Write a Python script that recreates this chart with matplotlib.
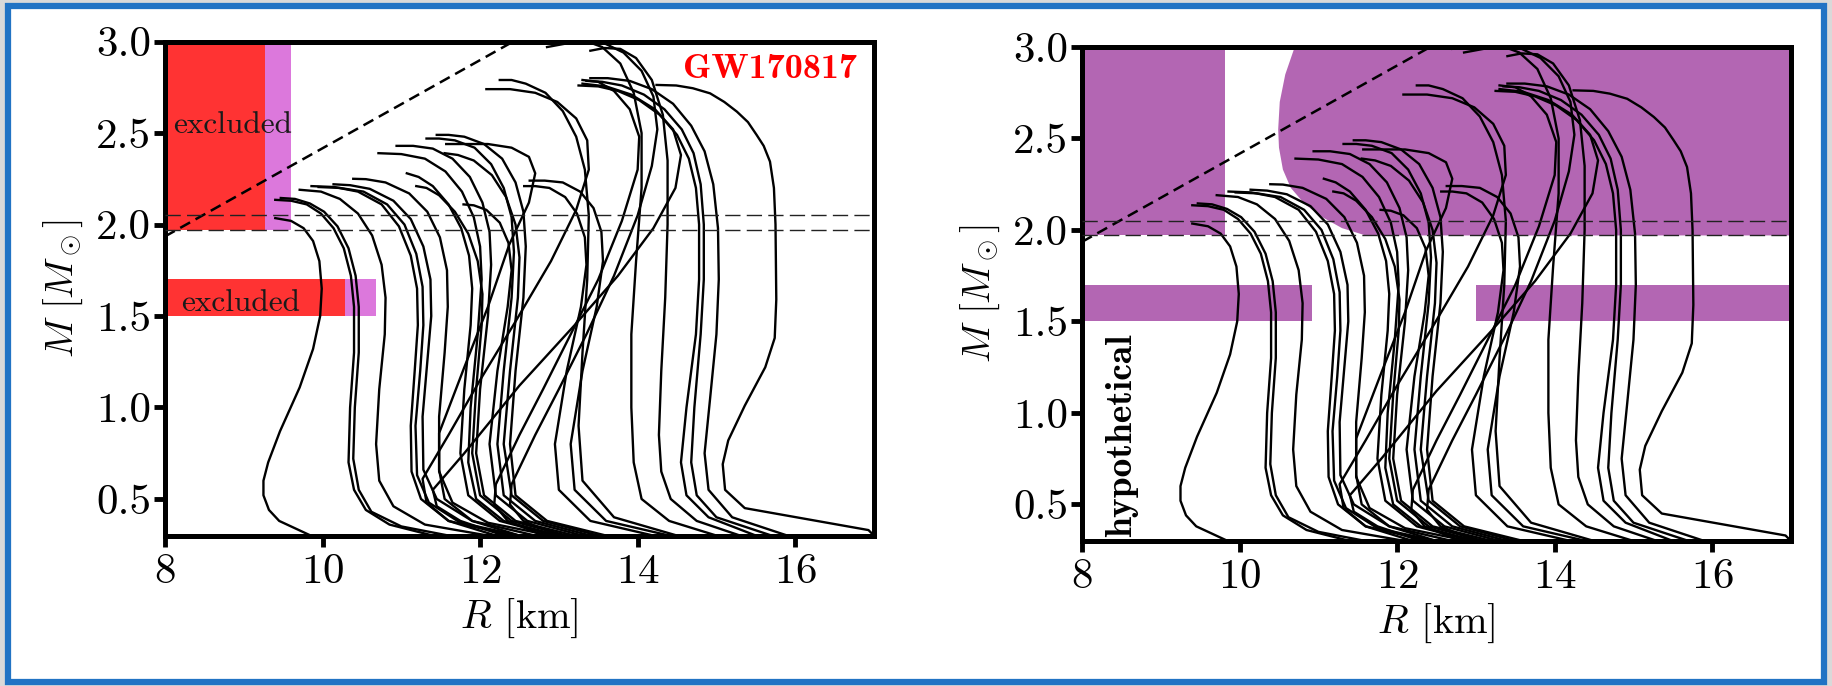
import matplotlib
matplotlib.use("Agg")
import matplotlib.pyplot as plt
from matplotlib.patches import Rectangle, Polygon

plt.rcParams['font.family'] = 'cmr10'
plt.rcParams['mathtext.fontset'] = 'cm'
plt.rcParams['axes.formatter.use_mathtext'] = True

# mass-radius curves, (R [km], M [Msun]) from low mass up to the maximum mass
eos_a = [(9.85, 0.30), (9.65, 0.34), (9.45, 0.38), (9.32, 0.44), (9.25, 0.52), (9.25, 0.60), (9.31, 0.70),
         (9.46, 0.87), (9.71, 1.11), (9.88, 1.32), (9.97, 1.50), (9.99, 1.65), (9.96, 1.80), (9.88, 1.91),
         (9.76, 1.98), (9.60, 2.02), (9.40, 2.035)]
eos_b = [(11.40, 0.30), (10.85, 0.36), (10.55, 0.44), (10.40, 0.55), (10.33, 0.70), (10.35, 1.00), (10.40, 1.30),
         (10.40, 1.55), (10.36, 1.72), (10.27, 1.87), (10.14, 1.98), (9.98, 2.06), (9.80, 2.11), (9.60, 2.13),
         (9.40, 2.135)]
eos_b2 = [(11.60, 0.30), (11.00, 0.35), (10.62, 0.43), (10.46, 0.55), (10.39, 0.72), (10.41, 1.00), (10.46, 1.30),
          (10.46, 1.55), (10.42, 1.72), (10.33, 1.87), (10.19, 1.99), (10.02, 2.07), (9.84, 2.115), (9.65, 2.14),
          (9.47, 2.145)]
eos_c = [(12.10, 0.30), (11.30, 0.36), (10.90, 0.46), (10.72, 0.60), (10.68, 0.80), (10.72, 1.10), (10.79, 1.40),
         (10.80, 1.60), (10.75, 1.78), (10.63, 1.94), (10.45, 2.06), (10.22, 2.14), (9.98, 2.18), (9.71, 2.19)]
eos_d = [(12.40, 0.30), (11.60, 0.38), (11.25, 0.50), (11.13, 0.65), (11.12, 0.90), (11.17, 1.20), (11.21, 1.45),
         (11.20, 1.65), (11.12, 1.83), (10.97, 1.99), (10.75, 2.11), (10.45, 2.18), (10.15, 2.205), (9.86, 2.21)]
eos_d2 = [(12.50, 0.30), (11.75, 0.37), (11.35, 0.48), (11.20, 0.63), (11.18, 0.90), (11.24, 1.20), (11.28, 1.45),
          (11.27, 1.66), (11.19, 1.84), (11.04, 2.00), (10.82, 2.11), (10.52, 2.18), (10.22, 2.20), (9.95, 2.205)]
eos_e = [(12.70, 0.30), (11.90, 0.38), (11.45, 0.50), (11.28, 0.66), (11.27, 0.95), (11.33, 1.25), (11.38, 1.50),
         (11.37, 1.70), (11.28, 1.88), (11.12, 2.03), (10.90, 2.13), (10.60, 2.195), (10.35, 2.215), (10.14, 2.22)]
eos_f = [(12.90, 0.30), (12.10, 0.37), (11.65, 0.48), (11.48, 0.65), (11.48, 0.95), (11.55, 1.30), (11.59, 1.55),
         (11.58, 1.75), (11.49, 1.93), (11.33, 2.07), (11.10, 2.17), (10.80, 2.23), (10.55, 2.248), (10.39, 2.25)]
eos_i = [(12.95, 0.30), (12.25, 0.38), (11.85, 0.52), (11.75, 0.75), (11.80, 1.10), (11.88, 1.45), (11.90, 1.65),
         (11.86, 1.83), (11.76, 1.98), (11.60, 2.11), (11.40, 2.21), (11.22, 2.26), (11.07, 2.28)]
eos_j = [(13.10, 0.30), (12.40, 0.38), (12.00, 0.52), (11.90, 0.75), (11.95, 1.10), (12.02, 1.45), (12.03, 1.62),
         (11.97, 1.80), (11.85, 1.95), (11.68, 2.07), (11.48, 2.16), (11.32, 2.20), (11.19, 2.21)]
eos_g = [(13.00, 0.30), (12.30, 0.38), (11.95, 0.50), (11.85, 0.70), (11.88, 1.00), (11.97, 1.40), (12.02, 1.70),
         (12.00, 1.88), (11.92, 2.04), (11.77, 2.18), (11.56, 2.29), (11.30, 2.36), (11.00, 2.385), (10.71, 2.39)]
eos_h = [(13.20, 0.30), (12.45, 0.38), (12.05, 0.52), (11.95, 0.75), (12.00, 1.10), (12.10, 1.50), (12.14, 1.78),
         (12.12, 1.96), (12.03, 2.12), (11.87, 2.26), (11.65, 2.36), (11.40, 2.415), (11.15, 2.43), (10.94, 2.43)]
eos_k = [(13.40, 0.30), (12.70, 0.38), (12.30, 0.52), (12.22, 0.80), (12.30, 1.20), (12.40, 1.60), (12.43, 1.85),
         (12.40, 2.04), (12.30, 2.20), (12.14, 2.33), (11.93, 2.42), (11.68, 2.46), (11.48, 2.47), (11.32, 2.47)]
eos_l = [(13.60, 0.30), (12.85, 0.38), (12.45, 0.52), (12.38, 0.80), (12.45, 1.20), (12.55, 1.60), (12.58, 1.88),
         (12.55, 2.07), (12.45, 2.23), (12.28, 2.36), (12.05, 2.44), (11.80, 2.48), (11.60, 2.49), (11.45, 2.49)]
eos_n = [(13.50, 0.30), (12.80, 0.38), (12.40, 0.52), (12.30, 0.80), (12.38, 1.20), (12.48, 1.60), (12.50, 1.82),
         (12.45, 2.00), (12.33, 2.15), (12.15, 2.27), (11.92, 2.35), (11.72, 2.38), (11.55, 2.39)]
eos_u = [(13.30, 0.30), (12.60, 0.38), (12.20, 0.52), (12.12, 0.80), (12.22, 1.20), (12.35, 1.55), (12.40, 1.75),
         (12.36, 1.90), (12.25, 2.01), (12.08, 2.08), (11.92, 2.105), (11.79, 2.11)]
eos_s = [(14.20, 0.30), (13.40, 0.38), (13.00, 0.55), (12.95, 0.80), (13.10, 1.20), (13.28, 1.55), (13.35, 1.78),
         (13.33, 1.93), (13.23, 2.06), (13.08, 2.15), (12.88, 2.20), (12.70, 2.21), (12.56, 2.21)]
eos_t = [(14.40, 0.30), (13.60, 0.38), (13.20, 0.55), (13.15, 0.80), (13.30, 1.20), (13.48, 1.55), (13.56, 1.80),
         (13.54, 1.96), (13.44, 2.09), (13.27, 2.18), (13.05, 2.23), (12.82, 2.24), (12.63, 2.24)]
eos_p = [(12.20, 0.30), (11.60, 0.38), (11.32, 0.48), (11.27, 0.61), (11.60, 0.85), (12.00, 1.15), (12.45, 1.47),
         (12.90, 1.80), (13.22, 2.08), (13.38, 2.30), (13.36, 2.46), (13.22, 2.58), (12.98, 2.67), (12.70, 2.72),
         (12.38, 2.74), (12.08, 2.74)]
eos_q = [(14.50, 0.30), (13.70, 0.40), (13.30, 0.60), (13.25, 0.90), (13.30, 1.30), (13.36, 1.70), (13.38, 2.05),
         (13.33, 2.30), (13.22, 2.48), (13.05, 2.62), (12.83, 2.72), (12.58, 2.77), (12.40, 2.79), (12.25, 2.79)]
eos_z2 = [(12.50, 0.30), (11.90, 0.38), (11.55, 0.50), (11.48, 0.66), (11.48, 0.86), (11.80, 1.22), (12.10, 1.55),
          (12.37, 1.89), (12.62, 2.12), (12.70, 2.28), (12.62, 2.37), (12.40, 2.42), (12.10, 2.44), (11.80, 2.44),
          (11.57, 2.44)]
eos_z3 = [(12.30, 0.30), (11.75, 0.38), (11.45, 0.46), (11.40, 0.55), (11.80, 0.75), (12.50, 1.12), (13.20, 1.45),
          (13.75, 1.72), (14.20, 1.98), (14.48, 2.20), (14.55, 2.38), (14.45, 2.52), (14.22, 2.63), (13.92, 2.71),
          (13.60, 2.755), (13.30, 2.77)]
eos_z4 = [(12.80, 0.30), (12.35, 0.38), (12.18, 0.47), (12.20, 0.58), (12.50, 0.85), (12.80, 1.10), (13.15, 1.40),
          (13.50, 1.70), (13.80, 2.02), (14.00, 2.30), (14.02, 2.48), (13.90, 2.63), (13.70, 2.73), (13.50, 2.78),
          (13.30, 2.79)]
eos_x1 = [(13.00, 0.30), (12.55, 0.38), (12.38, 0.47), (12.40, 0.58), (12.70, 0.85), (13.00, 1.10), (13.35, 1.40),
          (13.70, 1.72), (14.00, 2.05), (14.18, 2.32), (14.25, 2.52), (14.20, 2.70), (14.05, 2.84), (13.82, 2.94),
          (13.58, 2.99), (13.35, 3.00), (13.10, 2.99), (12.85, 2.97)]
eos_x2 = [(15.30, 0.30), (14.75, 0.38), (14.42, 0.50), (14.30, 0.65), (14.27, 0.85), (14.30, 1.20), (14.35, 1.60),
          (14.38, 2.00), (14.38, 2.35), (14.32, 2.60), (14.18, 2.79), (13.98, 2.91), (13.78, 2.96), (13.58, 2.965),
          (13.40, 2.95)]
eos_x3 = [(15.00, 0.30), (14.40, 0.38), (14.05, 0.50), (13.95, 0.70), (13.92, 1.00), (13.92, 1.40), (13.98, 1.80),
          (14.05, 2.20), (14.05, 2.50), (13.95, 2.72), (13.78, 2.88), (13.55, 2.97), (13.30, 3.01), (13.00, 3.01),
          (12.70, 2.99)]
eos_v1 = [(15.50, 0.30), (14.90, 0.40), (14.62, 0.52), (14.55, 0.70), (14.62, 1.00), (14.74, 1.40), (14.78, 1.70),
          (14.78, 2.00), (14.74, 2.20), (14.65, 2.36), (14.50, 2.49), (14.28, 2.60), (14.02, 2.68), (13.75, 2.73),
          (13.50, 2.755), (13.25, 2.76)]
eos_v2 = [(15.70, 0.30), (15.00, 0.40), (14.75, 0.52), (14.68, 0.70), (14.72, 1.00), (14.80, 1.40), (14.84, 1.70),
          (14.84, 2.00), (14.80, 2.22), (14.71, 2.39), (14.56, 2.52), (14.34, 2.63), (14.08, 2.71), (13.80, 2.76),
          (13.55, 2.78), (13.35, 2.785)]
eos_v3 = [(15.90, 0.30), (15.20, 0.40), (14.90, 0.55), (14.85, 0.75), (14.92, 1.05), (15.00, 1.40), (15.03, 1.70),
          (15.02, 1.98), (14.96, 2.22), (14.85, 2.40), (14.68, 2.54), (14.45, 2.66), (14.18, 2.74), (13.90, 2.785),
          (13.62, 2.80), (13.40, 2.80)]
eos_w = [(17.00, 0.30), (16.93, 0.33), (15.36, 0.45), (15.11, 0.55), (15.08, 0.69), (15.15, 0.82), (15.36, 1.01),
         (15.62, 1.22), (15.74, 1.38), (15.76, 1.59), (15.75, 2.00), (15.73, 2.20), (15.68, 2.344), (15.60, 2.43),
         (15.51, 2.49), (15.40, 2.56), (15.26, 2.617), (15.10, 2.67), (14.92, 2.717), (14.70, 2.745),
         (14.49, 2.76), (14.24, 2.763)]
curves = [eos_a, eos_b, eos_b2, eos_c, eos_d, eos_d2, eos_e, eos_f, eos_i, eos_j, eos_g, eos_h, eos_k, eos_l,
          eos_n, eos_u, eos_s, eos_t, eos_p, eos_q, eos_z2, eos_z3, eos_z4, eos_x1, eos_x2, eos_x3,
          eos_v1, eos_v2, eos_v3, eos_w]

# constraints
m_max_lo, m_max_hi = 1.97, 2.05
causal_r = [8.0, 12.42]
causal_m = [1.935, 3.0]
# left panel: excluded radii (red) and uncertainty extension (violet)
top_red_r, top_violet_r = 9.27, 9.60
low_red_r, low_violet_r = 10.29, 10.68
low_band = (1.50, 1.70)
# right panel: hypothetical excluded areas
hyp_left_r = 9.81
hyp_low_left_r = 10.92
hyp_low_right_r = 13.0
hyp_edge_r = [10.70, 10.58, 10.51, 10.49, 10.50, 10.55, 10.65, 10.83, 11.05, 11.30, 11.60]
hyp_edge_m = [3.00, 2.85, 2.70, 2.55, 2.45, 2.33, 2.23, 2.14, 2.07, 2.01, 1.97]

fig = plt.figure(figsize=(18.33, 6.86), dpi=100)
fig.patch.set_facecolor('#d9d9d9')
fig.patches.append(Rectangle((0.0045, 0.006), 0.9905, 0.985, transform=fig.transFigure, facecolor='white',
                             edgecolor='#2173c4', linewidth=4.5, zorder=-5))

ax1 = fig.add_axes([0.0900, 0.2193, 0.3868, 0.7201])
ax2 = fig.add_axes([0.5903, 0.2114, 0.3868, 0.7201])

red = '#ff3333'
violet = '#dc78dc'
purple = '#b366b3'

ax1.add_patch(Rectangle((8, m_max_lo), top_red_r - 8, 3.0 - m_max_lo, color=red, lw=0))
ax1.add_patch(Rectangle((top_red_r, m_max_lo), top_violet_r - top_red_r, 3.0 - m_max_lo, color=violet, lw=0))
ax1.add_patch(Rectangle((8, low_band[0]), low_red_r - 8, low_band[1] - low_band[0], color=red, lw=0))
ax1.add_patch(Rectangle((low_red_r, low_band[0]), low_violet_r - low_red_r, low_band[1] - low_band[0],
                        color=violet, lw=0))
ax1.text(8.105, 2.50, 'excluded', fontsize=22.5, color='#1a1a1a')
ax1.text(8.21, 1.53, 'excluded', fontsize=22.5, color='#1a1a1a')
ax1.text(16.79, 2.80, 'GW170817', fontsize=26, color='red', family='cmb10', ha='right')

ax2.add_patch(Rectangle((8, m_max_lo), hyp_left_r - 8, 3.0 - m_max_lo, color=purple, lw=0))
edge = list(zip(hyp_edge_r, hyp_edge_m))
ax2.add_patch(Polygon(edge + [(17, m_max_lo), (17, 3.0)], closed=True, color=purple, lw=0))
ax2.add_patch(Rectangle((8, low_band[0]), hyp_low_left_r - 8, low_band[1] - low_band[0], color=purple, lw=0))
ax2.add_patch(Rectangle((hyp_low_right_r, low_band[0]), 17 - hyp_low_right_r, low_band[1] - low_band[0],
                        color=purple, lw=0))
ax2.text(8.29, 0.32, 'hypothetical', fontsize=27, family='cmb10', rotation=90, ha='left', va='bottom')

for ax in (ax1, ax2):
    for c in curves:
        ax.plot([p[0] for p in c], [p[1] for p in c], color='black', lw=1.7, zorder=3,
                solid_joinstyle='round')
    ax.plot(causal_r, causal_m, color='black', lw=1.8, ls=(0, (4.5, 2.5)), zorder=4)
    for m in (m_max_lo, m_max_hi):
        ax.axhline(m, color='#222222', lw=1.0, ls=(0, (11, 4.5)), zorder=4)
    ax.set_xlim(8, 17)
    ax.set_ylim(0.3, 3.0)
    ax.set_xticks([8, 10, 12, 14, 16])
    ax.set_yticks([0.5, 1.0, 1.5, 2.0, 2.5, 3.0])
    ax.set_yticklabels(['0.5', '1.0', '1.5', '2.0', '2.5', '3.0'])
    ax.tick_params(labelsize=31, length=8, width=3.5, direction='out')
    ax.tick_params(axis='x', pad=5)
    ax.tick_params(axis='y', pad=2)
    for sp in ax.spines.values():
        sp.set_linewidth(3.6)
    ax.set_xlabel(r'$R$ [km]', fontsize=29, labelpad=4)
    ax.set_ylabel(r'$M\ [M_\odot]$', fontsize=28, labelpad=8)

fig.savefig('out.png', dpi=100, facecolor=fig.get_facecolor())
